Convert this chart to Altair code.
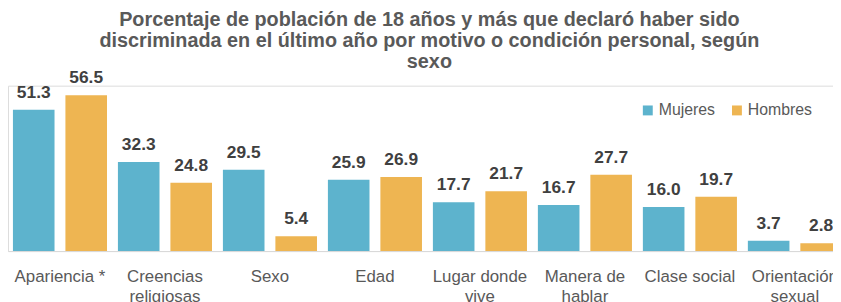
import altair as alt
import pandas as pd

categories = ["Apariencia *", "Creencias religiosas", "Sexo", "Edad",
              "Lugar donde vive", "Manera de hablar", "Clase social", "Orientación sexual"]
mujeres = [51.3, 32.3, 29.5, 25.9, 17.7, 16.7, 16.0, 3.7]
hombres = [56.5, 24.8, 5.4, 26.9, 21.7, 27.7, 19.7, 2.8]
series = ["Mujeres", "Hombres"]
wrapped = {
    "Creencias religiosas": ["Creencias", "religiosas"],
    "Lugar donde vive": ["Lugar donde", "vive"],
    "Manera de hablar": ["Manera de", "hablar"],
    "Orientación sexual": ["Orientación", "sexual"],
}
title_lines = ["Porcentaje de población de 18 años y más que declaró haber sido",
               "discriminada en el último año por motivo o condición personal, según",
               "sexo"]

rows = []
for c, m, h in zip(categories, mujeres, hombres):
    rows.append({"cat": c, "sexo": "Mujeres", "valor": m})
    rows.append({"cat": c, "sexo": "Hombres", "valor": h})
df = pd.DataFrame(rows)

expr = "datum.label"
for k, v in wrapped.items():
    arr = "[" + ",".join("'" + s + "'" for s in v) + "]"
    expr = f"datum.label == '{k}' ? {arr} : ({expr})"

FONT = "Liberation Sans"
GRAY = "#595959"

x = alt.X("cat:N", sort=categories, title=None,
          scale=alt.Scale(range=[0, 847], paddingInner=0.104, paddingOuter=0.047),
          axis=alt.Axis(labelExpr=expr, labelAngle=0, ticks=False, domainColor="#d9d9d9",
                        labelFont=FONT, labelFontSize=17, labelColor=GRAY,
                        labelPadding=26, labelLineHeight=20, labelBaseline="middle"))
xo = alt.XOffset("sexo:N", sort=series, scale=alt.Scale(paddingInner=0.2075))
y = alt.Y("valor:Q", scale=alt.Scale(domain=[0, 60]), axis=None)

base = alt.Chart(df)
bars = base.mark_bar().encode(
    x=x, xOffset=xo, y=y,
    color=alt.Color("sexo:N", sort=series,
                    scale=alt.Scale(domain=series, range=["#5DB3CD", "#EEB552"]),
                    legend=alt.Legend(title=None, orient="none", legendX=638, legendY=17,
                                      direction="horizontal", symbolType="square",
                                      symbolSize=100, symbolStrokeWidth=0,
                                      labelFont=FONT, labelFontSize=16, labelColor=GRAY,
                                      columnPadding=14, labelOffset=3, padding=0)),
)
labels = base.mark_text(baseline="bottom", dy=-8, font=FONT, fontSize=17.5,
                        fontWeight="bold", color="#404040").encode(
    x=x, xOffset=xo, y=y, text=alt.Text("valor:Q", format=".1f"))

chart = alt.layer(bars, labels).properties(
    width=833, height=167,
    autosize=alt.AutoSizeParams(type="none"),
    padding={"top": 77, "bottom": 50, "left": 0, "right": 0},
    title=alt.TitleParams(text=title_lines, font=FONT, fontSize=20, fontWeight="bold",
                          color=GRAY, anchor="middle", dx=9, offset=-2, lineHeight=21),
).configure_view(stroke=None).configure(background="white")

chart.save("out.html", embed_options={"renderer": "svg", "actions": False})
